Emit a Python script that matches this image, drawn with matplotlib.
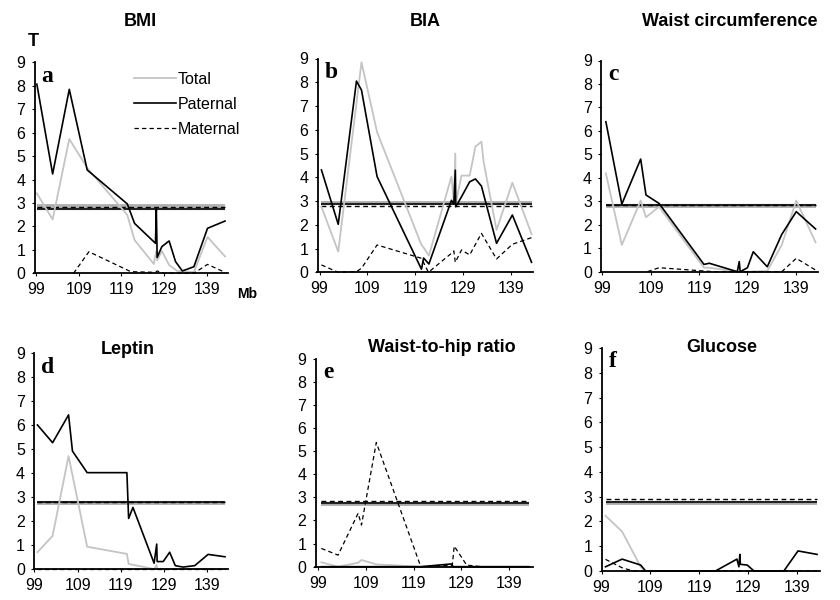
import matplotlib
matplotlib.use("Agg")
import matplotlib.pyplot as plt

plt.rcParams['font.family'] = ['Liberation Sans', 'DejaVu Sans']

# ---- data: T statistics along the chromosome (Mb) ----
titles = ["BMI", "BIA", "Waist circumference", "Leptin", "Waist-to-hip ratio", "Glucose"]
letters = ["a", "b", "c", "d", "e", "f"]
xticks = [99, 109, 119, 129, 139]
yticks = list(range(10))

bmi_tot_x = [99.2, 102.9, 106.8, 111.0, 120.4, 122.1, 126.6, 127.2, 127.4, 128.5, 130.2, 132.1, 136.0, 139.2, 143.3]
bmi_tot = [3.41, 2.30, 5.73, 4.50, 2.49, 1.42, 0.40, 0.95, 0.55, 0.95, 0.35, 0.10, 0.05, 1.55, 0.72]
bmi_pat_x = [99.2, 102.9, 106.8, 111.0, 120.4, 122.1, 127.0, 127.2, 127.4, 128.5, 130.2, 131.7, 133.3, 136.0, 139.2, 143.3]
bmi_pat = [8.07, 4.24, 7.85, 4.41, 2.96, 2.13, 1.28, 2.75, 0.68, 1.14, 1.38, 0.50, 0.10, 0.28, 1.92, 2.23]
bmi_mat_x = [107.8, 111.4, 121.2, 127.0, 127.4, 129.0, 136.0, 139.2, 143.3]
bmi_mat = [0, 0.92, 0.07, 0.04, 0.10, 0, 0, 0.38, 0.04]

bia_tot_x = [99.4, 102.9, 107.75, 111.0, 120.25, 120.7, 121.8, 126.5, 127.0, 127.3, 127.4, 128.6, 130.3, 131.5, 132.75, 133.2, 135.9, 139.2, 143.2]
bia_tot = [2.76, 0.87, 8.84, 5.90, 1.15, 1.04, 0.70, 4.03, 2.97, 5.00, 2.90, 4.07, 4.07, 5.29, 5.50, 4.66, 1.78, 3.77, 1.61]
bia_pat_x = [99.4, 102.9, 106.7, 107.75, 111.0, 120.25, 120.7, 121.8, 126.5, 127.0, 127.3, 127.4, 128.6, 130.3, 131.5, 132.75, 135.9, 139.2, 143.2]
bia_pat = [4.31, 2.02, 8.05, 7.67, 4.03, 0.13, 0.60, 0.35, 3.03, 2.88, 4.30, 2.76, 3.18, 3.81, 3.93, 3.63, 1.22, 2.41, 0.42]
bia_mat_x = [99.4, 102.9, 106.7, 107.75, 111.0, 120.25, 121.7, 126.5, 127.0, 127.3, 128.6, 130.3, 132.75, 135.9, 139.2, 143.2]
bia_mat = [0.31, 0, 0.03, 0.17, 1.15, 0.59, 0, 0.80, 0.90, 0.42, 0.94, 0.73, 1.64, 0.56, 1.18, 1.46]

waist_tot_x = [99.7, 103.0, 106.9, 108.0, 110.7, 120.0, 121.1, 126.9, 129.0, 133.1, 136.1, 139.1, 143.1]
waist_tot = [4.19, 1.14, 3.03, 2.32, 2.77, 0.17, 0.17, 0, 0, 0.03, 1.14, 3.03, 1.25]
waist_pat_x = [99.7, 103.0, 106.9, 108.0, 110.7, 120.0, 121.1, 126.9, 127.3, 127.5, 129.0, 130.2, 133.1, 136.1, 139.1, 143.1]
waist_pat = [6.39, 2.88, 4.80, 3.27, 2.91, 0.31, 0.36, 0, 0.43, 0, 0.17, 0.85, 0.21, 1.59, 2.56, 1.82]
waist_mat_x = [108.3, 110.7, 120.0, 122.0, 136.1, 139.1, 143.1]
waist_mat = [0, 0.17, 0.03, 0, 0, 0.57, 0.07]

leptin_tot_x = [99.7, 103.2, 106.9, 111.2, 120.4, 120.8, 126.7, 127.3, 127.4, 143.1]
leptin_tot = [0.70, 1.38, 4.71, 0.93, 0.63, 0.21, 0, 0.17, 0, 0]
leptin_pat_x = [99.7, 103.2, 106.9, 107.8, 111.2, 120.4, 120.8, 121.8, 126.7, 127.3, 127.4, 128.8, 130.3, 131.6, 133.4, 136.1, 139.2, 143.1]
leptin_pat = [6.01, 5.27, 6.43, 4.92, 4.02, 4.02, 2.11, 2.57, 0.24, 1.04, 0.31, 0.31, 0.70, 0.14, 0.08, 0.14, 0.61, 0.51]
leptin_mat_x = [99.7, 143.1]
leptin_mat = [0, 0]

whr_tot_x = [99.7, 103.2, 107.4, 108.1, 111.2, 120.5, 143.1]
whr_tot = [0.19, 0, 0.17, 0.29, 0.10, 0, 0]
whr_pat_x = [99.7, 120.5, 126.9, 127.3, 143.1]
whr_pat = [0, 0, 0.12, 0, 0]
whr_mat_x = [99.7, 103.2, 107.4, 108.1, 111.2, 120.5, 127.1, 127.5, 130.1, 133.2, 143.1]
whr_mat = [0.79, 0.50, 2.31, 1.80, 5.37, 0, 0.07, 0.89, 0.07, 0, 0]

glu_tot_x = [99.8, 103.2, 107.0, 108.0, 143.1]
glu_tot = [2.23, 1.59, 0.17, 0, 0]
glu_pat_x = [99.8, 103.2, 107.0, 108.0, 122.3, 126.7, 127.1, 127.3, 127.4, 128.8, 130.2, 136.3, 139.2, 143.1]
glu_pat = [0.17, 0.48, 0.24, 0, 0, 0.48, 0.17, 0.67, 0.27, 0.24, 0, 0, 0.81, 0.67]
glu_mat_x = [99.8, 103.2, 105.5, 143.1]
glu_mat = [0.47, 0.13, 0, 0]

# significance thresholds (total, paternal, maternal) per panel
thr_tot = [2.88, 2.90, 2.82, 2.75, 2.72, 2.73]
thr_pat = [2.76, 2.87, 2.86, 2.81, 2.76, 2.78]
thr_mat = [2.82, 2.79, 2.86, 2.81, 2.83, 2.90]

series = [
    (bmi_tot_x, bmi_tot, bmi_pat_x, bmi_pat, bmi_mat_x, bmi_mat),
    (bia_tot_x, bia_tot, bia_pat_x, bia_pat, bia_mat_x, bia_mat),
    (waist_tot_x, waist_tot, waist_pat_x, waist_pat, waist_mat_x, waist_mat),
    (leptin_tot_x, leptin_tot, leptin_pat_x, leptin_pat, leptin_mat_x, leptin_mat),
    (whr_tot_x, whr_tot, whr_pat_x, whr_pat, whr_mat_x, whr_mat),
    (glu_tot_x, glu_tot, glu_pat_x, glu_pat, glu_mat_x, glu_mat),
]

# ---- layout (pixels of the 840x600 figure) ----
W, H = 840, 600
# left, right, top(y=9), bottom(y=0)
rects = [(34.5, 228, 62.4, 273.3), (317.5, 533, 58.5, 272.3), (601, 818, 60.5, 271.7),
         (34, 228, 353.3, 569), (315.5, 533, 358.5, 566.7), (601.5, 820, 348, 571)]
xlims = [(98.65, 144.0), (98.58, 143.5), (98.69, 143.6),
         (98.9, 143.8), (98.48, 143.98), (98.98, 143.7)]
title_pos = [(140, 22), (425, 22), (730, 22), (128, 349), (442, 347), (722, 348)]

GREY = '#c4c4c4'
MAT_LS = (0, (3.5, 2.5))

fig = plt.figure(figsize=(8.4, 6), dpi=100)

for i in range(6):
    l, r, t, b = rects[i]
    ax = fig.add_axes([l / W, 1 - b / H, (r - l) / W, (b - t) / H])
    tx, ty, px, py, mx, my = series[i]
    x0, x1 = min(px[0], tx[0]), max(px[-1], tx[-1])

    ax.hlines(thr_tot[i], x0, x1, color='#b0b0b0', lw=2.8, zorder=2)
    ax.hlines(thr_pat[i], x0, x1, color='#222222', lw=1.5, zorder=2)
    ax.hlines(thr_mat[i], x0, x1, color='black', lw=1.0, linestyles=[MAT_LS], zorder=2)

    # curves stay under the axis spines so zero stretches disappear into the axis
    l_tot, = ax.plot(tx, ty, color=GREY, lw=1.3, zorder=2, clip_on=False, label='Total')
    l_mat, = ax.plot(mx, my, color='black', lw=0.9, ls=MAT_LS, zorder=2.1, clip_on=False, label='Maternal')
    l_pat, = ax.plot(px, py, color='black', lw=1.2, zorder=2.2, clip_on=False, label='Paternal')

    ax.set_xlim(*xlims[i])
    ax.set_ylim(0, 9)
    ax.set_xticks(xticks)
    ax.set_yticks(yticks)
    ax.tick_params(direction='out', length=2.5, width=0.8, labelsize=11.5, pad=4)
    for s in ['top', 'right']:
        ax.spines[s].set_visible(False)
    for s in ['left', 'bottom']:
        ax.spines[s].set_linewidth(1.3)
        ax.spines[s].set_zorder(3)
    ax.patch.set_visible(False)

    ax.text(0.035, 0.985, letters[i], transform=ax.transAxes, ha='left', va='top',
            fontsize=17, fontweight='bold', family=['Liberation Serif', 'DejaVu Serif'])
    fig.text(title_pos[i][0] / W, 1 - title_pos[i][1] / H, titles[i], ha='center', va='center',
             fontsize=13, fontweight='bold')

    if i == 0:
        ax.legend([l_tot, l_pat, l_mat], ['Total', 'Paternal', 'Maternal'],
                  loc='upper left', bbox_to_anchor=(134 / W, 1 - 72 / H), bbox_transform=fig.transFigure,
                  frameon=False, fontsize=11.5, handlelength=2.6, handletextpad=0.15,
                  labelspacing=0.62, borderpad=0, borderaxespad=0)

fig.text(33 / W, 1 - 41 / H, 'T', ha='center', va='center', fontsize=13, fontweight='bold')
fig.text(247 / W, 1 - 294 / H, 'Mb', ha='center', va='center', fontsize=10, fontweight='bold')

fig.savefig('out.png', dpi=100)
